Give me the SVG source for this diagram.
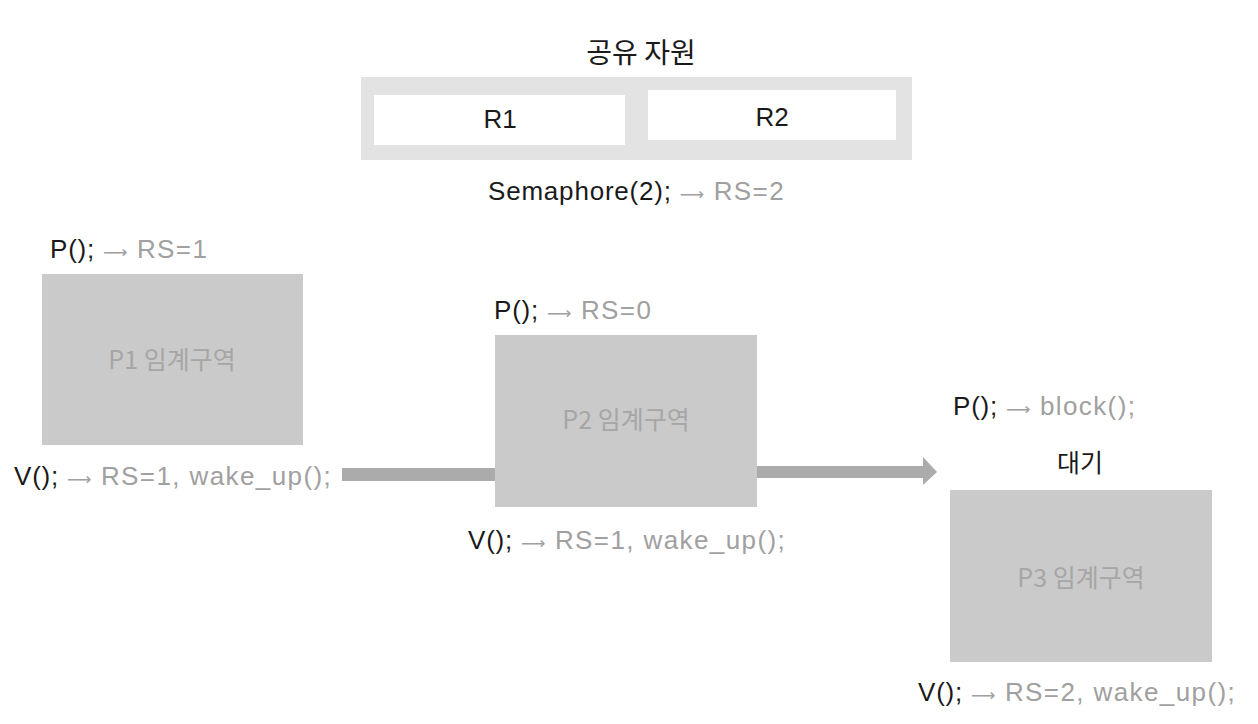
<svg xmlns="http://www.w3.org/2000/svg" width="1258" height="724" viewBox="0 0 1258 724">
<style>
text{font-family:"Liberation Sans","Noto Sans CJK KR",sans-serif;font-size:26px;fill:#1a1a1a}
.t{letter-spacing:0.8px}
.ko{font-family:"Noto Sans CJK KR","Liberation Sans",sans-serif;letter-spacing:0}
.g{fill:#a0a0a0;letter-spacing:1.4px}
.ar{fill:#a0a0a0;font-family:"DejaVu Sans",sans-serif;font-size:17px}
.box{fill:#cacaca}
.lbl{fill:#a6a6a6;text-anchor:middle;font-size:25px}
.c{text-anchor:middle}
</style>
<rect width="1258" height="724" fill="#ffffff"/>

<g id="resources">
<text class="ko c" x="641" y="63" style="font-size:28px">공유 자원</text>
<rect x="361" y="77" width="551" height="83" fill="#e3e3e3"/>
<g id="R1">
<rect x="374" y="95" width="251" height="50" fill="#ffffff"/>
<text class="c" x="500" y="128">R1</text>
</g>
<g id="R2">
<rect x="648" y="90" width="248" height="50" fill="#ffffff"/>
<text class="c" x="772" y="126">R2</text>
</g>
<text class="t" x="488" y="200">Semaphore(2); <tspan class="ar">⟶</tspan><tspan class="g"> RS=2</tspan></text>
</g>

<g id="connectors">
<rect x="342" y="468" width="155" height="13" fill="#ababab"/>
<path d="M757 466 H923 V457 L937 472 L923 485 V478 H757 Z" fill="#ababab"/>
</g>

<g id="P1">
<text class="t" x="50" y="258">P(); <tspan class="ar">⟶</tspan><tspan class="g"> RS=1</tspan></text>
<rect class="box" x="42" y="274" width="261" height="171"/>
<text class="ko lbl" x="172" y="369">P1 임계구역</text>
<text class="t" x="14" y="485">V(); <tspan class="ar">⟶</tspan><tspan class="g"> RS=1, wake_up();</tspan></text>
</g>

<g id="P2">
<text class="t" x="494" y="319">P(); <tspan class="ar">⟶</tspan><tspan class="g"> RS=0</tspan></text>
<rect class="box" x="495" y="335" width="262" height="172"/>
<text class="ko lbl" x="626" y="429">P2 임계구역</text>
<text class="t" x="468" y="549">V(); <tspan class="ar">⟶</tspan><tspan class="g"> RS=1, wake_up();</tspan></text>
</g>

<g id="P3">
<text class="t" x="953" y="415">P(); <tspan class="ar">⟶</tspan><tspan class="g"> block();</tspan></text>
<text class="ko c" x="1080" y="472" style="font-size:25px">대기</text>
<rect class="box" x="950" y="490" width="262" height="172"/>
<text class="ko lbl" x="1081" y="587">P3 임계구역</text>
<text class="t" x="918" y="701">V(); <tspan class="ar">⟶</tspan><tspan class="g"> RS=2, wake_up();</tspan></text>
</g>
</svg>
